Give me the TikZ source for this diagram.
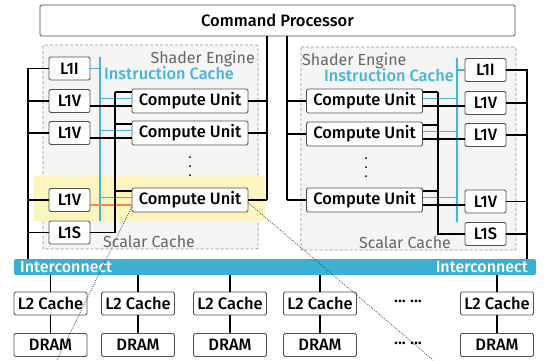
\documentclass[tikz,border=0pt]{standalone}
\usepackage{fontspec}
\setmainfont{Fira Sans}[UprightFont={* Medium}]
\newfontfamily\regfont{Fira Sans}
\usetikzlibrary{calc}
\definecolor{cblue}{HTML}{45B4DA}
\definecolor{icblue}{HTML}{3BB0D3}
\definecolor{corange}{HTML}{F0884A}
\definecolor{boxc}{HTML}{505050}
\definecolor{sefill}{HTML}{F5F5F5}
\definecolor{hly}{HTML}{FDF5C0}
\definecolor{sgray}{HTML}{666666}
\newcommand{\fs}{\fontsize{16.5}{18}\selectfont}
\newcommand{\fsg}{\fontsize{16}{18}\selectfont}
\newcommand{\fsb}{\fontsize{16.3}{18}\selectfont}
\begin{document}
\begin{tikzpicture}[x=1pt,y=-1pt,
  box/.style={draw=boxc, fill=white, rounded corners=1.5pt, line width=0.9pt, inner sep=0pt, font=\fs},
  l1/.style={box, minimum width=41pt, minimum height=23pt},
  cu/.style={box, minimum width=116pt, minimum height=24pt},
  mem/.style={box, minimum width=73pt, minimum height=23pt},
  wire/.style={line width=1.1pt, black},
  bwire/.style={line width=1.4pt, cblue},
  owire/.style={line width=1.4pt, corange},
  sebox/.style={draw=gray!85, dash pattern=on 3pt off 2pt, fill=sefill, line width=0.8pt, rounded corners=1pt},
  zoomline/.style={dash pattern=on 1pt off 1.2pt, line width=0.7pt, gray!60!black},
  glabel/.style={font=\regfont\fsg, text=sgray, inner sep=0pt},
  blabel/.style={font=\fsb, text=cblue, inner sep=0pt},
  wlabel/.style={font=\fsg, text=white, inner sep=0pt},
  dot/.style={circle, fill=black, inner sep=0pt, minimum size=2pt}
]
\useasboundingbox (0,0) rectangle (547,360);

% shader engines and highlight
\draw[sebox] (43,45) rectangle (258,249);
\draw[sebox] (301,47) rectangle (516,250);
\fill[hly] (34,176) rectangle (265,221);

% coordinates
\coordinate (busL) at (28,0);
\coordinate (icL) at (100,0);
\coordinate (scL) at (115,0);
\coordinate (cpL) at (267,0);
\coordinate (busR) at (527,0);
\coordinate (icR) at (457,0);
\coordinate (scR) at (438,0);
\coordinate (cpR) at (287,0);

% command processor
\node[box, minimum width=475pt, minimum height=31pt] (cp) at (277.5,20.5) {Command Processor};

% left nodes
\node[l1] (l1iL) at (69.5,68.5) {L1I};
\node[l1] (l1vL1) at (69.5,101) {L1V};
\node[l1] (l1vL2) at (69.5,133) {L1V};
\node[l1] (l1vL3) at (69.5,200) {L1V};
\node[l1] (l1sL) at (69.5,232.5) {L1S};
\node[cu] (cuL1) at (190,101) {Compute Unit};
\node[cu] (cuL2) at (190,133) {Compute Unit};
\node[cu] (cuL3) at (190,200) {Compute Unit};

% right nodes
\node[l1] (l1iR) at (485.5,70) {L1I};
\node[l1] (l1vR1) at (485.5,103) {L1V};
\node[l1] (l1vR2) at (485.5,135) {L1V};
\node[l1] (l1vR3) at (485.5,201.5) {L1V};
\node[l1] (l1sR) at (485.5,234) {L1S};
\node[cu] (cuR1) at (364.5,101) {Compute Unit};
\node[cu] (cuR2) at (364.5,134) {Compute Unit};
\node[cu] (cuR3) at (364.5,200) {Compute Unit};

% interconnect
\node[fill=icblue, rounded corners=2pt, minimum width=522pt, minimum height=16pt, inner sep=0pt] (ic) at (275,267) {};
\node[wlabel, anchor=west] (icl) at (20,267) {Interconnect};
\node[wlabel, anchor=east] (icr) at (528,267) {Interconnect};

% memory
\foreach \i/\x in {1/50.5,2/138,3/230,4/320,5/497}{
  \node[mem] (l2\i) at (\x,303.5) {L2 Cache};
  \node[mem] (dr\i) at (\x,345) {DRAM};
  \draw[wire] (ic.south -| l2\i.north) -- (l2\i.north);
  \draw[wire] (l2\i.south) -- (dr\i.north);
}
\node[font=\fs, inner sep=0pt] (el1) at (408,303.5) {··· ···};
\node[font=\fs, inner sep=0pt] (el2) at (408,345) {··· ···};

% labels
\node[glabel, anchor=east] (seL) at (255,58.5) {Shader Engine};
\node[blabel, anchor=west] (icaL) at (104,73) {Instruction Cache};
\node[glabel, anchor=west] (seR) at (302,61) {Shader Engine};
\node[blabel, anchor=east] (icaR) at (454,75.5) {Instruction Cache};
\node[glabel] (scaL) at (149,242) {Scalar Cache};
\node[glabel] (scaR) at (405,243) {Scalar Cache};

% dots
\foreach \yy in {157,166,175}{
  \node[dot] at (190,\yy) {};
  \node[dot] at (366,\yy+1) {};
}

% ---- left wiring
\draw[wire] (l1iL.west) -| (busL |- ic.north);
\foreach \n in {l1vL1,l1vL2,l1vL3,l1sL}{\draw[wire] (\n.west) -- (\n.west -| busL);}
\draw[bwire] (icL |- l1iL.north) -- (icL |- l1sL.north);
\draw[bwire] (l1iL.east) -- (l1iL.east -| icL);
\foreach \i in {1,2,3}{
  \draw[wire] ([yshift=9pt]cuL\i.west) -- ([yshift=9pt]cuL\i.west -| scL);
  \draw[bwire] ([yshift=2.5pt]cuL\i.west) -- ([yshift=2.5pt]cuL\i.west -| icL);
  \draw[wire] (cuL\i.east) -- (cuL\i.east -| cpL);
}
\draw[wire] ([yshift=-5pt]cuL1.west) -- ([yshift=-5pt]cuL1.west -| l1vL1.east);
\draw[wire] ([yshift=-5pt]cuL2.west) -- ([yshift=-5pt]cuL2.west -| l1vL2.east);
\draw[owire] ([yshift=-5pt]cuL3.west) -- ([yshift=-5pt]cuL3.west -| l1vL3.east);
\draw[wire] ([yshift=9pt]cuL1.west -| scL) -- (l1sL.east -| scL) -- (l1sL.east);
\draw[wire] (cp.south -| cpL) -- (cuL3.east -| cpL);

% ---- right wiring
\draw[wire] (l1iR.east) -| (busR |- ic.north);
\foreach \n in {l1vR1,l1vR2,l1vR3,l1sR}{\draw[wire] (\n.east) -- (\n.east -| busR);}
\draw[bwire] (icR |- l1iR.north) -- (icR |- l1sR.north);
\draw[bwire] (l1iR.west) -- (l1iR.west -| icR);
\foreach \i in {1,2,3}{
  \draw[wire] ([yshift=9pt]cuR\i.east) -- ([yshift=9pt]cuR\i.east -| scR);
  \draw[bwire] ([yshift=2.5pt]cuR\i.east) -- ([yshift=2.5pt]cuR\i.east -| icR);
  \draw[wire] ([yshift=-5pt]cuR\i.east) -- ([yshift=-5pt]cuR\i.east -| l1vR\i.west);
  \draw[wire] (cuR\i.west) -- (cuR\i.west -| cpR);
}
\draw[wire] ([yshift=9pt]cuR1.east -| scR) -- (l1sR.west -| scR) -- (l1sR.west);
\draw[wire] (cp.south -| cpR) -- (cuR3.west -| cpR);

% zoom lines
\coordinate (zl) at (57,360);
\coordinate (zr) at (433,360);
\draw[zoomline] ([yshift=-7pt]cuL3.west) -- (zl);
\draw[zoomline] ([yshift=-3pt]cuL3.east) -- (zr);
\end{tikzpicture}
\end{document}
